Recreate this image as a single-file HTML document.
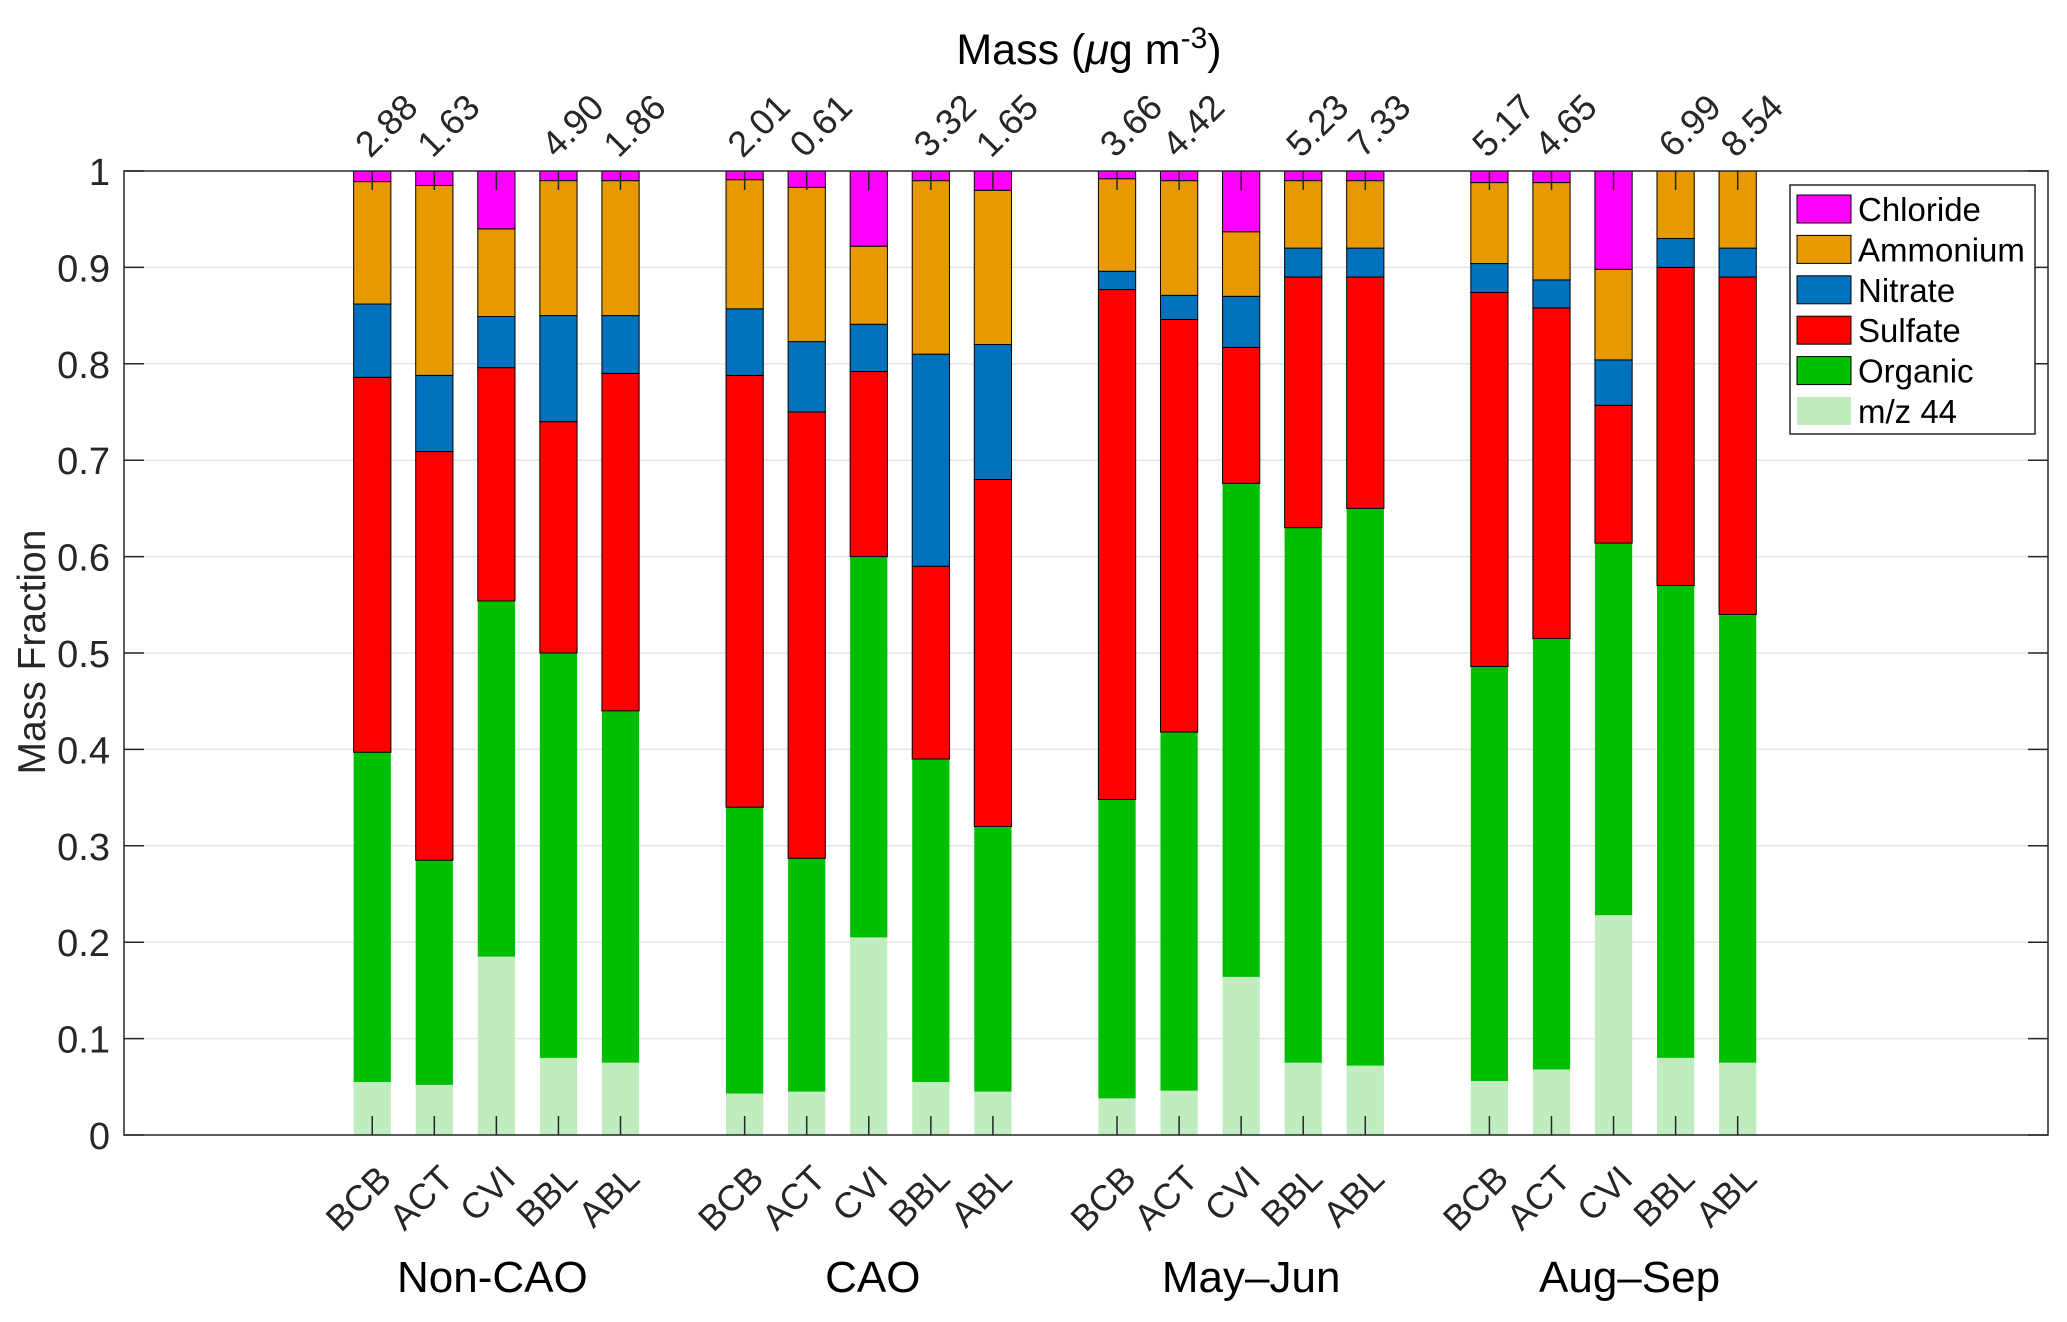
<!DOCTYPE html>
<html><head><meta charset="utf-8"><style>
html,body{margin:0;padding:0;background:#fff;}
svg{display:block;font-family:"Liberation Sans",Arial,sans-serif;}
</style></head><body>
<svg id="chart" width="2067" height="1322" viewBox="0 0 2067 1322" xmlns="http://www.w3.org/2000/svg">
<text x="1089" y="64" font-size="43" text-anchor="middle" fill="#000">Mass (<tspan font-style="italic">μ</tspan>g m<tspan dy="-16" font-size="30">-3</tspan><tspan dy="16">)</tspan></text>
<text transform="translate(45,652) rotate(-90)" font-size="39" text-anchor="middle" fill="#262626">Mass Fraction</text>
<g id="grid"></g><g id="bars"></g><g id="axes"></g><g id="labels"></g><g id="legend"></g>
</svg>
<script>
const categories = ["BCB","ACT","CVI","BBL","ABL"];
const groups = ["Non-CAO","CAO","May\u2013Jun","Aug\u2013Sep"];
const positions = [1,2,3,4,5,7,8,9,10,11,13,14,15,16,17,19,20,21,22,23];
const masses = ["2.88","1.63",null,"4.90","1.86","2.01","0.61",null,"3.32","1.65","3.66","4.42",null,"5.23","7.33","5.17","4.65",null,"6.99","8.54"];
const mz44 = [.055,.052,.185,.080,.075, .043,.045,.205,.055,.045, .038,.046,.164,.075,.072, .056,.068,.228,.080,.075];
const organic = [.342,.233,.369,.420,.365, .297,.242,.395,.335,.275, .310,.372,.512,.555,.578, .430,.447,.386,.490,.465];
const sulfate = [.389,.424,.242,.240,.350, .448,.463,.192,.200,.360, .529,.428,.141,.260,.240, .388,.343,.143,.330,.350];
const nitrate = [.076,.079,.053,.110,.060, .069,.073,.049,.220,.140, .019,.025,.053,.030,.030, .030,.029,.047,.030,.030];
const ammonium = [.127,.197,.091,.140,.140, .134,.160,.081,.180,.160, .096,.119,.067,.070,.070, .084,.101,.094,.070,.080];
const chloride = [.011,.015,.060,.010,.010, .009,.017,.078,.010,.020, .008,.010,.063,.010,.010, .012,.012,.102,.000,.000];
const yTicks = ["0","0.1","0.2","0.3","0.4","0.5","0.6","0.7","0.8","0.9","1"];

const NS="http://www.w3.org/2000/svg";
const L=124,R=2048,T=171,B=1135, XMIN=-3, XMAX=28;
const xs=v=>L+(v-XMIN)*(R-L)/(XMAX-XMIN);
const ys=v=>B-v*(B-T);
const bw=0.6*(R-L)/(XMAX-XMIN);
function mk(tag,attrs,parent){const e=document.createElementNS(NS,tag);for(const k in attrs)e.setAttribute(k,attrs[k]);parent.appendChild(e);return e;}
const grid=document.getElementById('grid'),bars=document.getElementById('bars'),axes=document.getElementById('axes'),labels=document.getElementById('labels'),legend=document.getElementById('legend');

yTicks.forEach((t,i)=>{const v=parseFloat(t);
 if(v>0&&v<1){const g=mk('line',{x1:L,x2:R,y1:ys(v),y2:ys(v),stroke:'#e6e6e6','stroke-width':1.5},grid);
  
  }
 const tl=mk('line',{x1:L,x2:L+20,y1:ys(v),y2:ys(v),stroke:'#262626','stroke-width':1.5},axes);
 
 
 const tr=mk('line',{x1:R-20,x2:R,y1:ys(v),y2:ys(v),stroke:'#262626','stroke-width':1.5},axes);
 
 
 const tx=mk('text',{x:L-14,y:ys(v)+14,'font-size':38,'text-anchor':'end',fill:'#262626'},labels);
 tx.textContent=t;
 
 
});

const series=[
 {name:'m/z 44',vals:mz44,color:'#c0edc0',stroke:'none'},
 {name:'Organic',vals:organic,color:'#00bf00',stroke:'none'},
 {name:'Sulfate',vals:sulfate,color:'#ff0000',stroke:'#000'},
 {name:'Nitrate',vals:nitrate,color:'#0072bd',stroke:'#000'},
 {name:'Ammonium',vals:ammonium,color:'#e69a00',stroke:'#000'},
 {name:'Chloride',vals:chloride,color:'#ff00ff',stroke:'#000'}];

positions.forEach((p,i)=>{
 let cum=0;const cx=xs(p);
 series.forEach(s=>{const v=s.vals[i];if(v<=0)return;
  const y0=ys(cum),y1=ys(Math.min(cum+v,1));
  const r=mk('rect',{x:cx-bw/2,y:y1,width:bw,height:y0-y1,fill:s.color,stroke:s.stroke,'stroke-width':s.stroke==='none'?0:1},bars);
  
  
  cum+=v;});
 const tb=mk('line',{x1:cx,x2:cx,y1:B,y2:B-19,stroke:'#262626','stroke-width':1.5},axes);
 
 
 const tt=mk('line',{x1:cx,x2:cx,y1:T,y2:T+19,stroke:'#262626','stroke-width':1.5},axes);
 
 
 const cl=mk('text',{transform:`translate(${cx+21},${B+46}) rotate(-45)`,'font-size':36,'text-anchor':'end',fill:'#262626'},labels);
 cl.textContent=categories[i%5];
 
 
 if(masses[i]){const ml=mk('text',{transform:`translate(${cx-2},${T-12}) rotate(-45)`,'font-size':36,fill:'#262626'},labels);
  ml.textContent=masses[i];
  
  }
});
const groupShift=[-4,4,10,16];
groups.forEach((g,gi)=>{const c=(xs(positions[gi*5])+xs(positions[gi*5+4]))/2+groupShift[gi];
 const t=mk('text',{x:c,y:1292,'font-size':44,'text-anchor':'middle',fill:'#000'},labels);
 t.textContent=g;
 
 });
const box=mk('rect',{x:L,y:T,width:R-L,height:B-T,fill:'none',stroke:'#262626','stroke-width':1.5},axes);



const lb=mk('rect',{x:1790,y:185,width:245,height:249,fill:'#fff',stroke:'#262626','stroke-width':1.5},legend);


series.slice().reverse().forEach((s,i)=>{const cy=209+i*40.4;
 const p=mk('rect',{x:1797,y:cy-14,width:54,height:28,fill:s.color,stroke:s.stroke==='none'&&i===4?'#000':s.stroke,'stroke-width':s.stroke==='none'&&i!==4?0:1},legend);
 
 
 const t=mk('text',{x:1858,y:cy+12,'font-size':33,fill:'#000'},legend);
 t.textContent=s.name;
 
 });
</script>
</body></html>
